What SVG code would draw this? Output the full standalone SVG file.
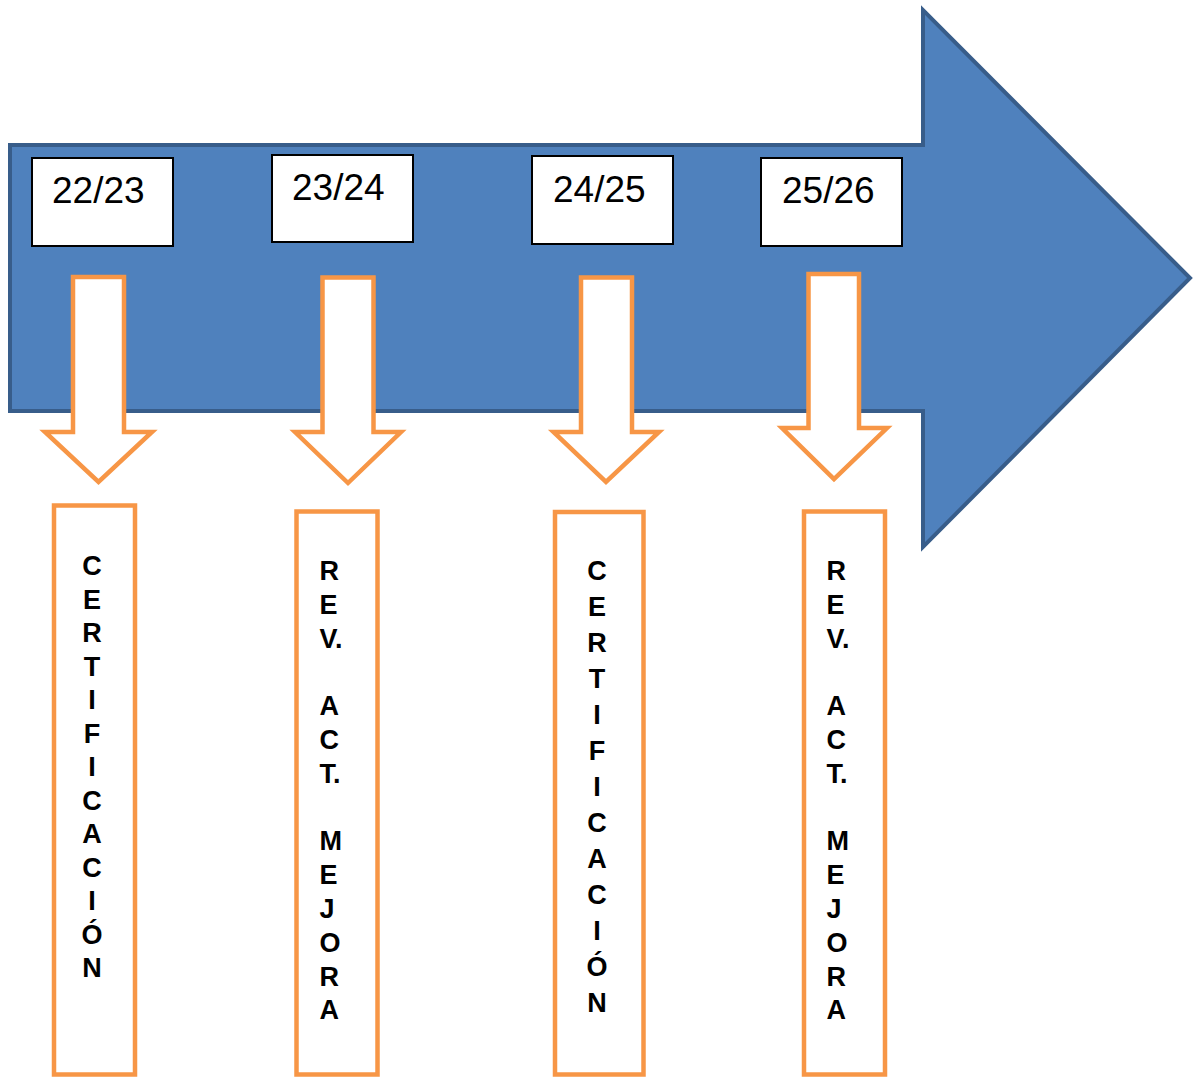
<svg xmlns="http://www.w3.org/2000/svg" width="1196" height="1077" viewBox="0 0 1196 1077">
<style>
.big{fill:#4F81BD;stroke:#385D8A;stroke-width:4;stroke-linejoin:miter}
.yr{fill:#FFFFFF;stroke:#000000;stroke-width:2}
.yt{font-family:"Liberation Sans",Arial,sans-serif;font-size:37px;fill:#000000}
.dn{fill:#FFFFFF;stroke:#F79646;stroke-width:4.5;stroke-linejoin:miter}
.col{fill:#FFFFFF;stroke:#F79646;stroke-width:4.5}
.lt{font-family:"Liberation Sans",Arial,sans-serif;font-size:27px;font-weight:bold;fill:#000000}
</style>
<rect width="1196" height="1077" fill="#FFFFFF"/>
<g id="timeline">
<path class="big" d="M10,145 L923,145 L923,10 L1190,278 L923,547 L923,411 L10,411 Z"/>
</g>
<g id="y2223"><rect class="yr" x="32" y="158" width="141" height="88"/><text class="yt" x="52" y="203">22/23</text></g>
<g id="y2324"><rect class="yr" x="272" y="155" width="141" height="87"/><text class="yt" x="292" y="200">23/24</text></g>
<g id="y2425"><rect class="yr" x="532" y="156" width="141" height="88"/><text class="yt" x="553" y="202">24/25</text></g>
<g id="y2526"><rect class="yr" x="761" y="158" width="141" height="88"/><text class="yt" x="782" y="203">25/26</text></g>
<g id="connectors">
<path class="dn" d="M73,277 L124,277 L124,432 L152,432 L98.5,482 L45,432 L73,432 Z"/>
<path class="dn" d="M322.5,277.5 L373.5,277.5 L373.5,432 L401,432 L348,483 L295,432 L322.5,432 Z"/>
<path class="dn" d="M581,277.5 L632,277.5 L632,432 L659,432 L606,482 L553.5,432 L581,432 Z"/>
<path class="dn" d="M808.5,274 L859,274 L859,428 L887,428 L834,479 L782,428 L808.5,428 Z"/>
</g>
<g id="cert1">
<rect class="col" x="54" y="505.5" width="81" height="569"/>
<text class="lt" text-anchor="middle">
<tspan x="92" y="575">C</tspan><tspan x="92" y="608.5">E</tspan><tspan x="92" y="642">R</tspan><tspan x="92" y="675.5">T</tspan><tspan x="92" y="709">I</tspan><tspan x="92" y="742.5">F</tspan><tspan x="92" y="776">I</tspan><tspan x="92" y="809.5">C</tspan><tspan x="92" y="843">A</tspan><tspan x="92" y="876.5">C</tspan><tspan x="92" y="910">I</tspan><tspan x="92" y="943.5">Ó</tspan><tspan x="92" y="977">N</tspan>
</text>
</g>
<g id="rev1">
<rect class="col" x="296.5" y="511.5" width="81" height="563"/>
<text class="lt">
<tspan x="319.5" y="580">R</tspan><tspan x="319.5" y="613.8">E</tspan><tspan x="319.5" y="647.6">V.</tspan><tspan x="319.5" y="715.2">A</tspan><tspan x="319.5" y="749">C</tspan><tspan x="319.5" y="782.8">T.</tspan><tspan x="319.5" y="850.4">M</tspan><tspan x="319.5" y="884.2">E</tspan><tspan x="319.5" y="918">J</tspan><tspan x="319.5" y="951.8">O</tspan><tspan x="319.5" y="985.6">R</tspan><tspan x="319.5" y="1019.4">A</tspan>
</text>
</g>
<g id="cert2">
<rect class="col" x="555" y="512" width="88.5" height="562.5"/>
<text class="lt" text-anchor="middle">
<tspan x="597" y="580">C</tspan><tspan x="597" y="616">E</tspan><tspan x="597" y="652">R</tspan><tspan x="597" y="688">T</tspan><tspan x="597" y="724">I</tspan><tspan x="597" y="760">F</tspan><tspan x="597" y="796">I</tspan><tspan x="597" y="832">C</tspan><tspan x="597" y="868">A</tspan><tspan x="597" y="904">C</tspan><tspan x="597" y="940">I</tspan><tspan x="597" y="976">Ó</tspan><tspan x="597" y="1012">N</tspan>
</text>
</g>
<g id="rev2">
<rect class="col" x="804" y="511.5" width="81" height="563"/>
<text class="lt">
<tspan x="826.5" y="580">R</tspan><tspan x="826.5" y="613.8">E</tspan><tspan x="826.5" y="647.6">V.</tspan><tspan x="826.5" y="715.2">A</tspan><tspan x="826.5" y="749">C</tspan><tspan x="826.5" y="782.8">T.</tspan><tspan x="826.5" y="850.4">M</tspan><tspan x="826.5" y="884.2">E</tspan><tspan x="826.5" y="918">J</tspan><tspan x="826.5" y="951.8">O</tspan><tspan x="826.5" y="985.6">R</tspan><tspan x="826.5" y="1019.4">A</tspan>
</text>
</g>
</svg>
